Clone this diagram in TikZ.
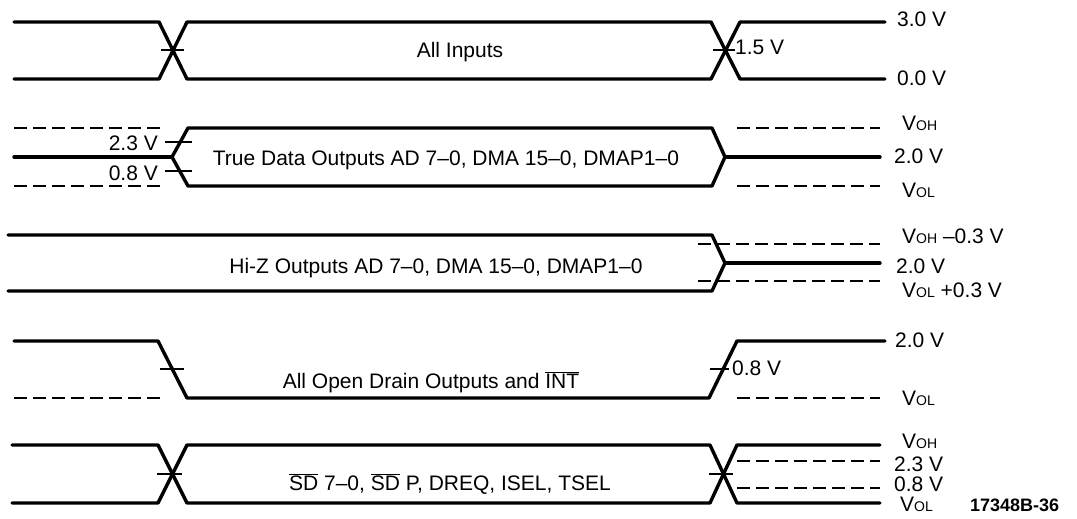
\documentclass[tikz,border=0pt]{standalone}
\usepackage{fontspec}
\setmainfont{Liberation Sans}
\newcommand\ovl[1]{$\overline{\mbox{#1}}$}
\newcommand\sub[1]{{\fontsize{14}{14}\selectfont #1}}
\begin{document}
\begin{tikzpicture}[x=1pt,y=-1pt,
  wave/.style={line width=3.4pt,line cap=round,line join=round},
  dline/.style={line width=2.4pt,dash pattern=on 13pt off 6pt},
  tick/.style={line width=1.6pt},
  lbl/.style={inner sep=0pt,font=\fontsize{21}{25}\selectfont},
  fig/.style={inner sep=0pt,font=\bfseries\fontsize{18}{22}\selectfont}]
\useasboundingbox (0,0) rectangle (1077,519);
% ---------------- Row 1: All Inputs
\draw[wave] (14,22)--(159,22)--(187,79)--(711,79)--(740,22)--(885,22);
\draw[wave] (14,79)--(159,79)--(187,22)--(711,22)--(740,79)--(885,79);
\draw[tick] (161,50)--(184,50);
\draw[tick] (713,50)--(735,50);
\node[lbl,anchor=base] (t1) at (460,58) {All Inputs};
\node[lbl,anchor=base west] (v15) at (735,55) {1.5 V};
\node[lbl,anchor=base west] (v30) at (897,27) {3.0 V};
\node[lbl,anchor=base west] (v00) at (897,85) {0.0 V};
% ---------------- Row 2: True Data Outputs
\draw[dline] (14,128)--(160,128);
\draw[dline] (14,186)--(160,186);
\draw[wave] (14,157)--(172,157);
\draw[wave] (172,157)--(188,128)--(712,128)--(725,157)--(712,186)--(188,186)--cycle;
\draw[wave] (725,157)--(880,157);
\draw[dline] (737,128)--(880,128);
\draw[dline] (737,186)--(880,186);
\draw[tick] (165,142)--(192,142);
\draw[tick] (165,171)--(192,171);
\node[lbl,anchor=base east] (l23) at (158,150) {2.3 V};
\node[lbl,anchor=base east] (l08) at (158,180) {0.8 V};
\node[lbl,anchor=base] (t2) at (446,165) {True Data Outputs AD 7--0, DMA 15--0, DMAP1--0};
\node[lbl,anchor=base west] (voh2) at (902,130) {V\sub{OH}};
\node[lbl,anchor=base west] (v20b) at (894,163) {2.0 V};
\node[lbl,anchor=base west] (vol2) at (902,197) {V\sub{OL}};
% ---------------- Row 3: Hi-Z Outputs
\draw[wave] (8,235)--(712,235)--(725,263)--(712,291)--(8,291);
\draw[wave] (725,263)--(880,263);
\draw[dline] (698,244)--(880,244);
\draw[dline] (698,281)--(880,281);
\node[lbl,anchor=base] (t3) at (436,273) {Hi-Z Outputs AD 7--0, DMA 15--0, DMAP1--0};
\node[lbl,anchor=base west] (voh3) at (902,243) {V\sub{OH} --0.3 V};
\node[lbl,anchor=base west] (v20c) at (896,273) {2.0 V};
\node[lbl,anchor=base west] (vol3) at (902,297) {V\sub{OL} +0.3 V};
% ---------------- Row 4: Open Drain
\draw[wave] (14,341)--(158,341)--(187,398)--(709,398)--(737,341)--(885,341);
\draw[dline] (14,398)--(160,398);
\draw[dline] (737,398)--(880,398);
\draw[tick] (160,369)--(184,369);
\draw[tick] (710,369)--(729,369);
\node[lbl,anchor=base] (t4) at (431,388) {All Open Drain Outputs and \ovl{INT}};
\node[lbl,anchor=base west] (v08d) at (732,375) {0.8 V};
\node[lbl,anchor=base west] (v20d) at (895,347) {2.0 V};
\node[lbl,anchor=base west] (vol4) at (902,405) {V\sub{OL}};
% ---------------- Row 5: SD
\draw[wave] (12,445)--(158,445)--(187,503)--(710,503)--(737,445)--(880,445);
\draw[wave] (12,503)--(158,503)--(187,445)--(710,445)--(737,503)--(880,503);
\draw[dline] (737,461)--(880,461);
\draw[dline] (737,488)--(880,488);
\draw[tick] (157,474)--(182,474);
\draw[tick] (709,474)--(733,474);
\node[lbl,anchor=base] (t5) at (450,490) {\ovl{SD} 7--0, \ovl{SD} P, DREQ, ISEL, TSEL};
\node[lbl,anchor=base west] (voh5) at (902,448) {V\sub{OH}};
\node[lbl,anchor=base west] (v23e) at (894,471) {2.3 V};
\node[lbl,anchor=base west] (v08e) at (894,491) {0.8 V};
\node[lbl,anchor=base west] (vol5) at (900,511) {V\sub{OL}};
\node[fig,anchor=base west] (fig) at (970,511) {17348B-36};
\end{tikzpicture}
\end{document}
